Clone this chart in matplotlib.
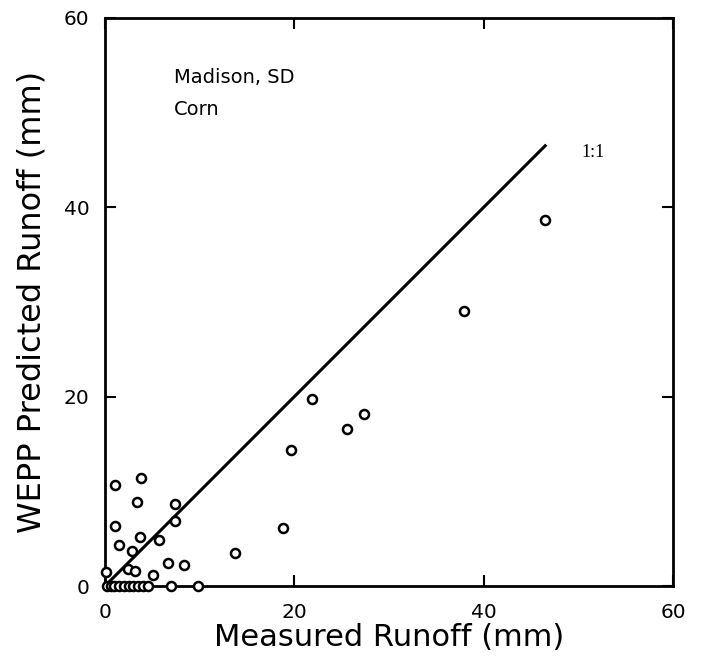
import numpy as np
import matplotlib.pyplot as plt

# measured vs WEPP predicted runoff (mm)
measured = [46.5, 37.9, 21.9, 27.4, 25.6, 19.7, 18.8, 13.7,
            1.1, 3.8, 3.4, 7.4, 7.4, 1.1, 3.7, 5.7, 1.5, 2.9,
            6.7, 8.4, 2.4, 3.2, 5.1, 0.1,
            0.2, 0.6, 1.0, 1.5, 2.0, 2.5, 3.0, 3.5, 4.0, 4.5, 7.0, 9.8]
predicted = [38.7, 29.1, 19.8, 18.2, 16.6, 14.4, 6.1, 3.5,
             10.7, 11.4, 8.9, 8.7, 6.9, 6.3, 5.2, 4.9, 4.3, 3.7,
             2.4, 2.2, 1.8, 1.6, 1.2, 1.5,
             0, 0, 0, 0, 0, 0, 0, 0, 0, 0, 0, 0]
line_end = 46.5

fig = plt.figure(figsize=(7.06, 6.56), dpi=100)
ax = fig.add_axes([0.1487, 0.1067, 0.8045, 0.8659])

ax.plot([0, line_end], [0, line_end], color="black", linewidth=2.2)
ax.plot(measured, predicted, linestyle="none", marker="o", markersize=6.5,
        markerfacecolor="white", markeredgecolor="black", markeredgewidth=1.8,
        clip_on=False, zorder=3)

ax.text(50.3, 45.3, "1:1", family="Liberation Serif", fontsize=13)
ax.text(7.3, 53.1, "Madison, SD", fontsize=14)
ax.text(7.3, 49.8, "Corn", fontsize=14)

ax.set_xlim(0, 60)
ax.set_ylim(0, 60)
ax.set_xticks([0, 20, 40, 60])
ax.set_yticks([0, 20, 40, 60])
ax.tick_params(direction="in", length=8, width=1.5, top=True, right=True,
               labelsize=14.5)
ax.tick_params(axis="x", pad=12)
ax.tick_params(axis="y", pad=11)
for s in ax.spines.values():
    s.set_linewidth(2)

ax.set_xlabel("Measured Runoff (mm)", fontsize=22, labelpad=1)
ax.set_ylabel("WEPP Predicted Runoff (mm)", fontsize=23, labelpad=12)

fig.savefig("out.png", dpi=100)
